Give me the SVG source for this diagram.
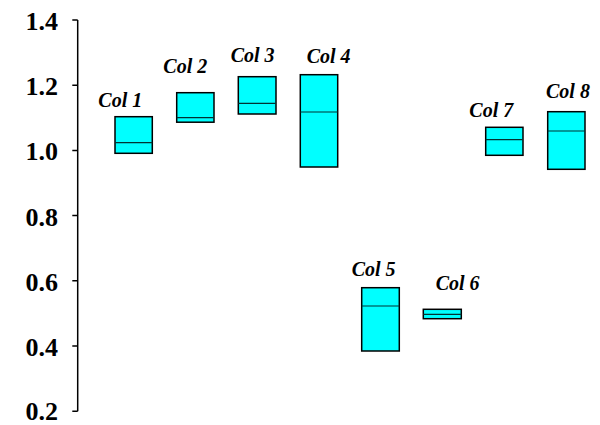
<svg xmlns="http://www.w3.org/2000/svg" width="600" height="425" viewBox="0 0 600 425">
<style>
.ax{font-family:"Liberation Serif","Times New Roman",serif;font-weight:bold;font-size:26px;fill:#000;text-anchor:end}
.lb{font-family:"Liberation Serif","Times New Roman",serif;font-weight:bold;font-style:italic;font-size:20px;fill:#000}
.box{fill:#00FFFF;stroke:#000;stroke-width:1.5}
.med{stroke:#003333;stroke-width:1.2}
.axis{stroke:#000;stroke-width:1.5;fill:none}
</style>
<rect width="600" height="425" fill="#fff"/>
<g id="axis">
<path class="axis" d="M77.7 20V411.3M72.3 20H77.7M72.3 85.2H77.7M72.3 150.4H77.7M72.3 215.6H77.7M72.3 280.8H77.7M72.3 346H77.7M72.3 411.3H77.7"/>
<text class="ax" x="58" y="30">1.4</text>
<text class="ax" x="58" y="95.2">1.2</text>
<text class="ax" x="58" y="160.4">1.0</text>
<text class="ax" x="58" y="225.6">0.8</text>
<text class="ax" x="58" y="290.8">0.6</text>
<text class="ax" x="58" y="356">0.4</text>
<text class="ax" x="58" y="420">0.2</text>
</g>
<g id="col1"><rect class="box" x="115" y="116.7" width="37.3" height="36.6"/><line class="med" x1="115" y1="142.7" x2="152.3" y2="142.7"/><text class="lb" x="98.3" y="107.3">Col 1</text></g>
<g id="col2"><rect class="box" x="176.7" y="92.7" width="37.3" height="29.5"/><line class="med" x1="176.7" y1="117.7" x2="214" y2="117.7"/><text class="lb" x="163.3" y="72.7">Col 2</text></g>
<g id="col3"><rect class="box" x="238.3" y="76.7" width="37.7" height="37.3"/><line class="med" x1="238.3" y1="103.3" x2="276" y2="103.3"/><text class="lb" x="230.7" y="61.7">Col 3</text></g>
<g id="col4"><rect class="box" x="300.3" y="74.7" width="37.4" height="92.3"/><line class="med" x1="300.3" y1="112" x2="337.7" y2="112"/><text class="lb" x="306.7" y="63.3">Col 4</text></g>
<g id="col5"><rect class="box" x="361.7" y="287.7" width="37.6" height="63.3"/><line class="med" x1="361.7" y1="306" x2="399.3" y2="306"/><text class="lb" x="351.7" y="276">Col 5</text></g>
<g id="col6"><rect class="box" x="423.3" y="309.3" width="38" height="9.4"/><line class="med" x1="423.3" y1="314.3" x2="461.3" y2="314.3"/><text class="lb" x="435.7" y="290">Col 6</text></g>
<g id="col7"><rect class="box" x="485.7" y="127.3" width="37.3" height="28"/><line class="med" x1="485.7" y1="139.7" x2="523" y2="139.7"/><text class="lb" x="469.3" y="116.7">Col 7</text></g>
<g id="col8"><rect class="box" x="547.7" y="111.7" width="37.3" height="57.6"/><line class="med" x1="547.7" y1="131" x2="585" y2="131"/><text class="lb" x="546" y="98.3">Col 8</text></g>
<g id="connectors"/>
</svg>
